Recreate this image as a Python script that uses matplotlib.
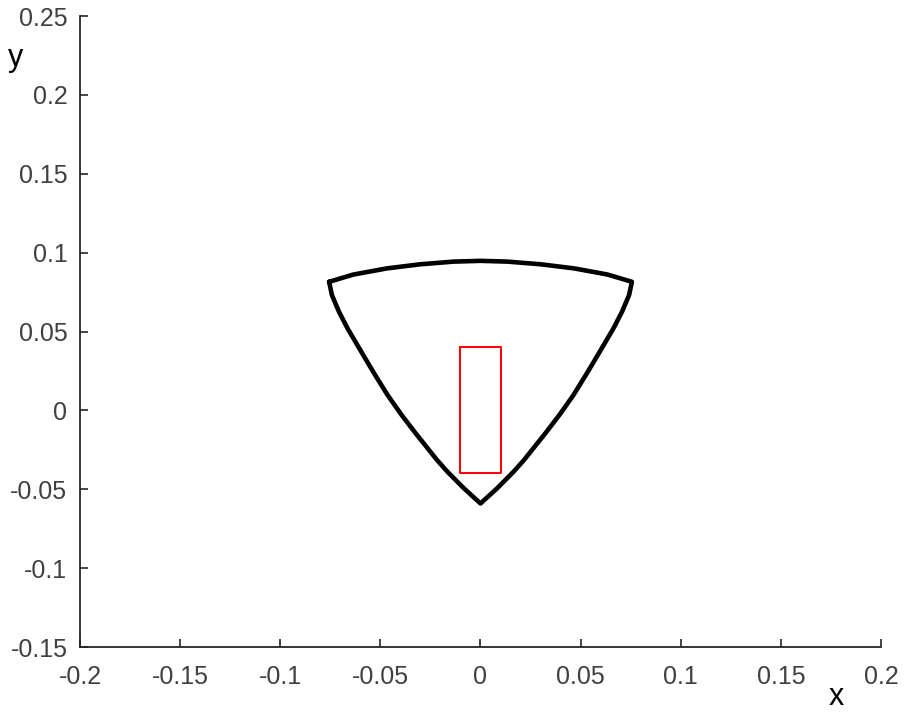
import matplotlib.pyplot as plt

# outline of the curved triangle
# top edge, left vertex -> right vertex
top_x = [-0.0756, -0.0635, -0.0468, -0.0302, -0.0136, 0.0,
         0.0136, 0.0302, 0.0468, 0.0635, 0.0756]
top_y = [0.0815, 0.0861, 0.0900, 0.0926, 0.0943, 0.0948,
         0.0943, 0.0926, 0.0900, 0.0861, 0.0815]

# left edge, left vertex -> bottom vertex (right edge is its mirror image)
side_x = [-0.0756, -0.0742, -0.0707, -0.0664, -0.0615, -0.0561, -0.0526,
          -0.0464, -0.0394, -0.0324, -0.0217, -0.0165, -0.0083, 0.0]
side_y = [0.0815, 0.0731, 0.0626, 0.0520, 0.0414, 0.0298, 0.0224,
          0.0097, -0.0029, -0.0145, -0.0315, -0.0389, -0.0494, -0.059]

# red rectangle corners
rect_x = [-0.01, 0.01, 0.01, -0.01, -0.01]
rect_y = [0.04, 0.04, -0.04, -0.04, 0.04]

xticks = [-0.2, -0.15, -0.1, -0.05, 0, 0.05, 0.1, 0.15, 0.2]
yticks = [-0.15, -0.1, -0.05, 0, 0.05, 0.1, 0.15, 0.2, 0.25]

plt.rcParams['font.family'] = ['Liberation Sans', 'DejaVu Sans']
axcol = '#262626'

# closed outline: top, right side down, left side back up
shape_x = top_x + [-v for v in side_x[1:]] + side_x[::-1][1:]
shape_y = top_y + side_y[1:] + side_y[::-1][1:]

fig = plt.figure(figsize=(9.06, 7.15), dpi=100)
ax = fig.add_axes([0.0883, 0.0951, 0.8841, 0.8825])

ax.plot(shape_x, shape_y, color='black', linewidth=3.3,
        solid_joinstyle='round', solid_capstyle='round')
ax.plot(rect_x, rect_y, color='red', linewidth=1.4)

ax.set_xlim(-0.2, 0.2)
ax.set_ylim(-0.15, 0.25)
ax.set_xticks(xticks)
ax.set_yticks(yticks)
ax.set_xticklabels([('%g' % t) for t in xticks])
ax.set_yticklabels([('%g' % t) for t in yticks])

for s in ['top', 'right']:
    ax.spines[s].set_visible(False)
for s in ['left', 'bottom']:
    ax.spines[s].set_color(axcol)
    ax.spines[s].set_linewidth(1.3)

ax.tick_params(direction='in', length=6, width=1.2, color=axcol,
               labelcolor='#404040', labelsize=18)
ax.tick_params(axis='x', pad=13)
ax.tick_params(axis='y', pad=9)

fig.text(836 / 906, 1 - 697 / 715, 'x', fontsize=22, ha='center', va='center')
fig.text(16 / 906, 1 - 58 / 715, 'y', fontsize=22, ha='center', va='center')

fig.savefig('out.png', dpi=100)
